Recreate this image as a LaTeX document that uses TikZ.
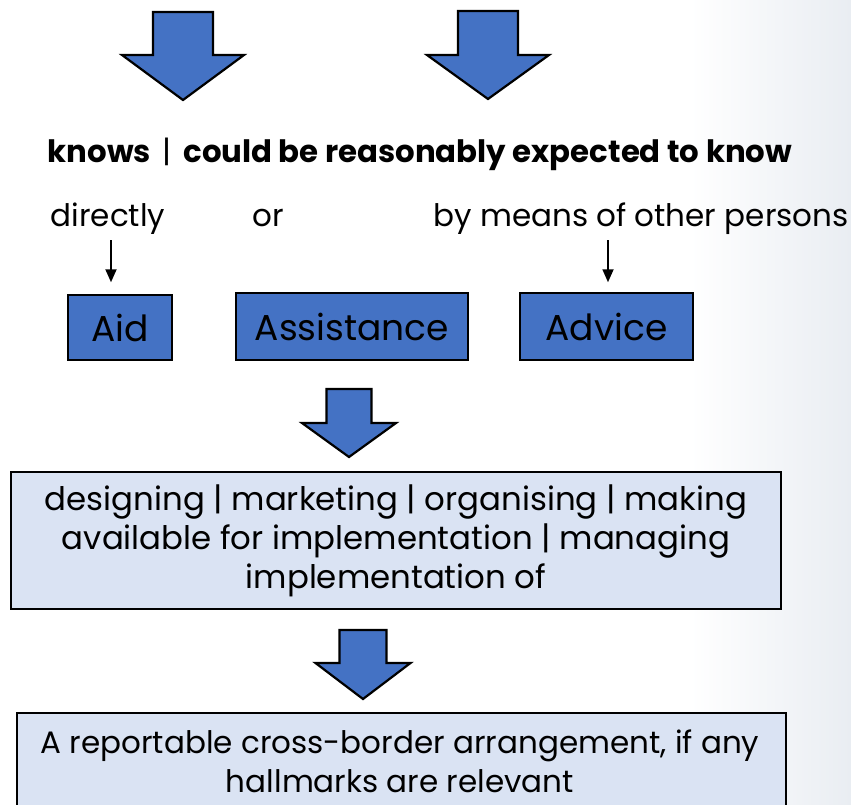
\documentclass[tikz,border=0pt]{standalone}
\usepackage{fontspec}
\setmainfont{Poppins}
\usetikzlibrary{arrows.meta,positioning,calc}

\definecolor{boxblue}{HTML}{4472C4}
\definecolor{paleblue}{HTML}{DAE3F3}
\definecolor{bgtint}{HTML}{E9EDF2}

% block arrow: centre x, top, neck, tip, shaft half width, head half width
\newcommand{\blockarrow}[6]{%
  \draw[bigarrow] (#1-#5,#2) -- (#1+#5,#2) -- (#1+#5,#3) -- (#1+#6,#3)
    -- (#1,#4) -- (#1-#6,#3) -- (#1-#5,#3) -- cycle;}

\tikzset{
  bigarrow/.style={fill=boxblue,draw=black,line width=2.2pt,line join=miter},
  pointer/.style={draw=black,line width=1.8pt,-{Triangle[length=13pt,width=11pt]}},
  label/.style={inner sep=0pt,anchor=base,font=\fontsize{31}{39}\selectfont},
  darkbox/.style={draw=black,line width=1.5pt,fill=boxblue,inner sep=0pt,
    font=\fontsize{36}{42}\selectfont},
  palebox/.style={draw=black,line width=1.5pt,fill=paleblue,inner sep=0pt,
    align=center,font=\fontsize{31}{39}\selectfont}
}

\begin{document}
\begin{tikzpicture}[x=1pt,y=-1pt]
	\useasboundingbox (0,0) rectangle (851,805);
	\clip (0,0) rectangle (851,805);
	\shade[left color=white,right color=bgtint] (690,0) rectangle (851,805);
	% top arrows
	\blockarrow{183}{12}{55}{100}{30}{61}
	\blockarrow{488}{11}{55}{99}{30}{61}
	\node[label,font=\bfseries\fontsize{30.8}{38}\selectfont] (know) at (420,163)
		{knows \,{\mdseries|}\, could be reasonably expected to know};
	\node[label] (direct) at (108,226) {directly};
	\node[label] (or) at (268,226) {or};
	\node[label] (others) at (641,226) {by means of other persons};
	% three boxes
	\node[darkbox,minimum width=104,minimum height=65] (aid) at (120,327.5) {Aid};
	\node[darkbox,minimum width=232,minimum height=67] (assist) at (352,326.5) {Assistance};
	\node[darkbox,minimum width=173,minimum height=67] (advice) at (606.5,326.5) {Advice};
	\coordinate (ax) at (111,0);
	\coordinate (bx) at (608,0);
	\draw[pointer,shorten <=6pt,shorten >=12pt] (direct.south -| ax) -- (aid.north -| ax);
	\draw[pointer,shorten <=6pt,shorten >=10pt] (others.south -| bx) -- (advice.north -| bx);
	\blockarrow{349}{389}{423}{457}{22.5}{47}
	\node[palebox,minimum width=770,minimum height=137,
		font=\fontsize{32.4}{39}\selectfont] (acts) at (396,540.5)
		{designing | marketing | organising | making\\
		 available for implementation | managing\\
		 implementation of};
	\blockarrow{363}{630}{663}{699}{23.5}{47.5}
	\node[palebox,minimum width=769,minimum height=140,anchor=north west] (result) at (16,712)
		{};
	\node[palebox,draw=none,fill=none,anchor=base] (resulttext) at (400,792)
		{A reportable cross-border arrangement, if any\\ hallmarks are relevant};
\end{tikzpicture}
\end{document}
